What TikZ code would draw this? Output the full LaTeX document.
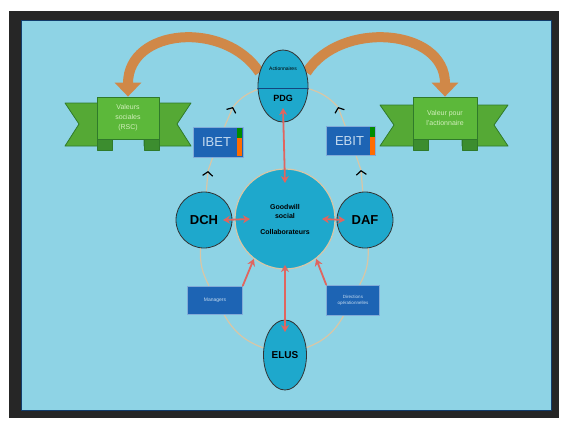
\documentclass[tikz,border=0pt]{standalone}
\usepackage{fontspec}
\setmainfont{Liberation Sans}
\usetikzlibrary{arrows.meta,shapes.geometric}
\definecolor{fond}{HTML}{8ED3E5}
\definecolor{cyanbulle}{HTML}{1EA8CC}
\definecolor{bleubox}{HTML}{1D64B4}
\definecolor{bleutexte}{HTML}{C6DCF0}
\definecolor{vertruban}{HTML}{5CB83A}
\definecolor{vertfonce}{HTML}{2F7A2A}
\definecolor{textevert}{HTML}{D2EFBC}
\definecolor{orangearc}{HTML}{D08848}
\definecolor{rougeflux}{HTML}{E0655F}
\definecolor{beigeboucle}{HTML}{D8C6A6}
\pgfdeclarelayer{cadre}
\pgfdeclarelayer{liens}
\pgfsetlayers{cadre,liens,main}

\begin{document}
\begin{tikzpicture}[x=1pt, y=-1pt, line cap=round, line join=round,
    bulle/.style={circle, draw=black!80, fill=cyanbulle, line width=0.8pt, inner sep=0pt, font=\bfseries\fontsize{13}{15}\selectfont},
    ovale/.style={ellipse, draw=black!80, fill=cyanbulle, line width=0.8pt, inner sep=0pt},
    boite/.style={rectangle, draw=bleutexte!60!bleubox, fill=bleubox, line width=0.6pt, text=bleutexte, align=center, inner sep=1pt},
    banniere/.style={rectangle, draw=vertfonce, fill=vertruban, line width=0.8pt, text=textevert, align=center, font=\fontsize{7}{10}\selectfont},
    aile/.style={draw=vertfonce, fill=vertruban!92!black, line width=0.8pt},
    pli/.style={draw=vertfonce, fill=vertfonce!70!vertruban, line width=0.8pt},
    flux/.style={draw=rougeflux, line width=1.8pt, arrows={Stealth[length=7pt,width=8pt]-Stealth[length=7pt,width=8pt]}},
    fluxun/.style={draw=rougeflux, line width=1.8pt, arrows={-Stealth[length=7pt,width=8pt]}},
    lien/.style={draw=beigeboucle, line width=1.2pt},
    chevron/.style={lien, arrows={-Straight Barb[color=black,length=4pt,width=10pt]}},
    grandarc/.style={draw=orangearc, line width=10pt, line cap=butt, arrows={-Triangle[width=26pt,length=14pt]}}]
  \useasboundingbox (0,0) rectangle (568,424);
  \begin{pgfonlayer}{cadre}
    \fill[white] (0,0) rectangle (568,424);
    \fill[black!85] (9,11) rectangle (559,418);
    \fill[fond] (21,20) rectangle (551,410);
    \draw[bleubox!60!black, line width=1pt] (21,20) rectangle (551,410);
  \end{pgfonlayer}

  % rubans
  \draw[aile] (65,103) -- (112,103) -- (112,146) -- (65,146) -- (79,124) -- cycle;
  \draw[aile] (144,103) -- (191,103) -- (177,124) -- (191,146) -- (144,146) -- cycle;
  \draw[pli] (97,139) rectangle (112,150);
  \draw[pli] (144,139) rectangle (159,150);
  \draw[aile] (380,105) -- (428,105) -- (428,146) -- (380,146) -- (394,125) -- cycle;
  \draw[aile] (462,105) -- (508,105) -- (494,125) -- (508,146) -- (462,146) -- cycle;
  \draw[pli] (413,139) rectangle (428,150);
  \draw[pli] (462,139) rectangle (477,150);
  \node[banniere, minimum width=62pt, minimum height=42pt] (rsc) at (128,118) {Valeurs\\sociales\\(RSC)};
  \node[banniere, minimum width=64pt, minimum height=42pt] (act) at (445,118) {Valeur pour\\l'actionnaire};

  % acteurs
  \node[ovale, minimum width=50pt, minimum height=72pt] (pdg) at (283,86) {};
  \draw[bleubox!70!black, line width=0.6pt] ([yshift=-2pt]pdg.west) -- ([yshift=-2pt]pdg.east);
  \node[font=\fontsize{5}{6}\selectfont] (pdgact) at ([yshift=17pt]pdg.center) {Actionnaires};
  \node[font=\bfseries\fontsize{9}{11}\selectfont] (pdgnom) at ([yshift=-12pt]pdg.center) {PDG};
  \node[bulle, minimum size=100pt, draw=beigeboucle, line width=1.2pt, align=center, font=\bfseries\fontsize{7}{9}\selectfont] (gw) at (285,219) {Goodwill\\social\\[7pt]Collaborateurs};
  \node[bulle, minimum size=56pt] (dch) at (204,220) {DCH};
  \node[bulle, minimum size=56pt] (daf) at (365,220) {DAF};
  \node[ovale, minimum width=43pt, minimum height=70pt, font=\bfseries\fontsize{10}{12}\selectfont] (elus) at (285,355) {ELUS};
  \node[boite, minimum width=50pt, minimum height=30pt, font=\fontsize{13}{15}\selectfont] (ibet) at (218,142) {IBET\hspace{3pt}};
  \node[boite, minimum width=49pt, minimum height=29pt, font=\fontsize{13}{15}\selectfont] (ebit) at (351,141) {EBIT\hspace{3pt}};
  \node[boite, minimum width=55pt, minimum height=28pt, font=\fontsize{5}{6}\selectfont] (managers) at (215,300) {Managers};
  \node[boite, minimum width=53pt, minimum height=30pt, font=\fontsize{4.5}{6}\selectfont] (divers) at (353,300) {Directions\\op\'erationnelles};
  \fill[green!55!black] ([xshift=-6pt,yshift=-1pt]ibet.north east) rectangle ([xshift=-1pt,yshift=4pt]ibet.east);
  \fill[orange!85!red] ([xshift=-6pt,yshift=4pt]ibet.east) rectangle ([xshift=-1pt,yshift=1pt]ibet.south east);
  \fill[green!55!black] ([xshift=-6pt,yshift=-1pt]ebit.north east) rectangle ([xshift=-1pt,yshift=4pt]ebit.east);
  \fill[orange!85!red] ([xshift=-6pt,yshift=4pt]ebit.east) rectangle ([xshift=-1pt,yshift=1pt]ebit.south east);

  \coordinate (chdch) at (208,171);
  \coordinate (chibet) at (233,107);
  \coordinate (chdaf) at (361,170);
  \coordinate (chebit) at (338,107);
  \begin{pgfonlayer}{liens}
    \draw[grandarc] (pdg.150) .. controls (225,20) and (128,28) .. (rsc.north);
    \draw[grandarc] (pdg.30) .. controls (340,20) and (445,28) .. (act.north);
    \draw[chevron] (dch) -- (chdch);
    \draw[lien] (chdch) -- (ibet);
    \draw[chevron] (ibet) -- (chibet);
    \draw[lien] (chibet) to[bend left=15] (pdg);
    \draw[chevron] (daf) -- (chdaf);
    \draw[lien] (chdaf) -- (ebit);
    \draw[chevron] (ebit) -- (chebit);
    \draw[lien] (chebit) to[bend right=15] (pdg);
    \draw[lien] (elus) to[bend left=20] (managers);
    \draw[lien] (managers) to[bend left=15] (dch);
    \draw[lien] (elus) to[bend right=20] (divers);
    \draw[lien] (divers) to[bend right=15] (daf);
  \end{pgfonlayer}

  % flux
  \draw[flux] ([yshift=-22pt]pdg.center) -- ([yshift=36pt]gw.center);
  \draw[flux] ([xshift=19pt]dch.center) -- ([xshift=-35pt]gw.center);
  \draw[flux] ([xshift=37pt]gw.center) -- ([xshift=-20pt]daf.center);
  \draw[flux] ([yshift=-46pt]gw.center) -- ([yshift=23pt]elus.center);
  \draw[fluxun] (managers.north east) -- (gw.232);
  \draw[fluxun] (divers.north west) -- (gw.-52);
\end{tikzpicture}
\end{document}
